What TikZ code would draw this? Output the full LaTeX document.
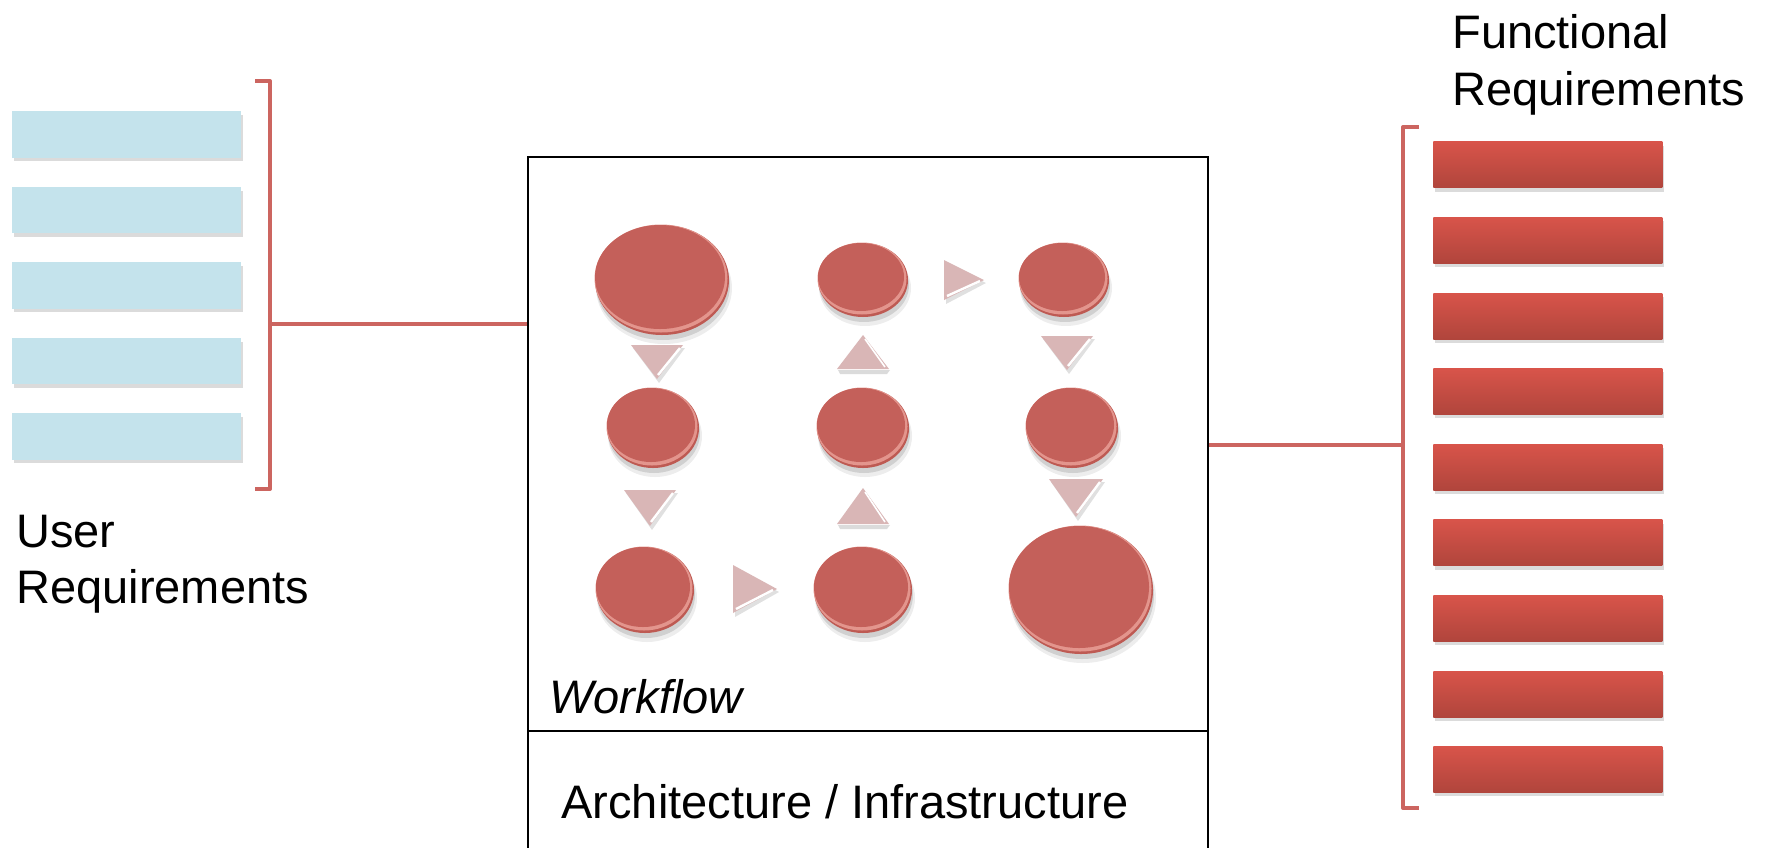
\documentclass[tikz,border=0pt]{standalone}
\usepackage{fontspec}
\setmainfont{Liberation Sans}
\usetikzlibrary{shapes.geometric}
\definecolor{ubar}{HTML}{C4E3EC}
\definecolor{fbartop}{HTML}{D8544A}
\definecolor{fbarbot}{HTML}{B0453C}
\definecolor{brk}{HTML}{CC6560}
\definecolor{discmain}{HTML}{C4605A}
\definecolor{discrim}{HTML}{E3958D}
\definecolor{discedge}{HTML}{BE5A53}
\definecolor{tri}{HTML}{D9B6B6}
\newcommand\mydisc[5]{%
  \pgfmathsetmacro\dcx{#2}\pgfmathsetmacro\dcy{#3}%
  \pgfmathsetmacro\drx{#4}\pgfmathsetmacro\dry{#5}%
  \pgfmathsetmacro\irx{#4-2}\pgfmathsetmacro\iry{#5-3}%
  \fill[black,opacity=0.07] (\dcx+2,\dcy+8) ellipse [x radius=\drx+1, y radius=\dry+1];
  \fill[black,opacity=0.12] (\dcx+1,\dcy+5) ellipse [x radius=\drx, y radius=\dry];
  \fill[discedge] (\dcx,\dcy) ellipse [x radius=\drx, y radius=\dry];
  \fill[discrim] (\dcx-1,\dcy-1.5) ellipse [x radius=\drx-0.5, y radius=\dry-1];
  \fill[discmain] (\dcx-2,\dcy-3) ellipse [x radius=\irx, y radius=\iry];
  \node[inner sep=0pt, minimum size=0pt] (#1) at (\dcx,\dcy) {};
}
\newcommand\tridown[4]{% cx top bottom hw
  \fill[black,opacity=0.12] (#1-#4+2,#2+3) -- (#1+#4+2,#2+3) -- (#1+2,#3+4) -- cycle;
  \fill[tri] (#1-#4,#2) -- (#1+#4,#2) -- (#1,#3) -- cycle;
  \draw[white, line width=1.2pt] (#1+#4-3,#2+3) -- (#1+1,#3-4);
}
\newcommand\triup[4]{% cx top bottom hw
  \fill[black,opacity=0.14] (#1-#4+1,#3+1) -- (#1+#4+1,#3+1) -- (#1+#4-2,#3+5) -- (#1-#4+3,#3+5) -- cycle;
  \fill[tri] (#1-#4,#3) -- (#1+#4,#3) -- (#1,#2) -- cycle;
  \draw[white, line width=0.8pt] (#1+2,#2+4) -- (#1+#4-4,#3-2);
}
\newcommand\triright[4]{% left right cy hh
  \fill[black,opacity=0.12] (#1+2,#3-#4+3) -- (#2+2,#3+3) -- (#1+2,#3+#4+4) -- cycle;
  \fill[tri] (#1,#3-#4) -- (#2,#3) -- (#1,#3+#4) -- cycle;
  \draw[white, line width=1.2pt] (#1+3,#3+#4-4) -- (#2-4,#3+1);
}
\begin{document}
\begin{tikzpicture}[x=0.5pt,y=-0.5pt,
  ubarbox/.style={rectangle, fill=ubar, minimum width=114.5pt, minimum height=23.25pt, inner sep=0pt, anchor=north west},
  fbarbox/.style={rectangle, top color=fbartop, bottom color=fbarbot, minimum width=114.5pt, minimum height=23pt, inner sep=0pt, anchor=north west},
  barshadow/.style={fill=black, opacity=0.14},
  brkline/.style={draw=brk, line width=2pt},
  lbltext/.style={font=\fontsize{23.5}{28}\selectfont, inner sep=0pt, anchor=base west},
]
\useasboundingbox (0,0) rectangle (1770,847);
\fill[white] (0,0) rectangle (1770,847);

% user requirement bars
\foreach \i in {0,...,4} {
  \pgfmathsetmacro\t{111+75.5*\i}
  \fill[barshadow] (14,\t+4) rectangle (243,\t+50);
  \node[ubarbox] (u\i) at (12,\t) {};
}
% left bracket
\coordinate (lbt) at (255,81);
\coordinate (lbb) at (255,489);
\coordinate (lbm) at (270,324);
\draw[brkline, line join=round] (lbt) -- (lbt -| lbm) -- (lbb -| lbm) -- (lbb);

% workflow box
\node[draw, line width=1pt, minimum width=340pt, minimum height=352pt, anchor=north west, inner sep=0pt] (wf) at (527,156) {};
\coordinate (dv) at (527,731);
\draw[line width=1pt] (dv) -- (dv -| wf.east);
\draw[brkline] (lbm) -- (lbm -| wf.west);

% right bracket
\coordinate (rbt) at (1419,127);
\coordinate (rbb) at (1419,808);
\coordinate (rbm) at (1403,444.5);
\draw[brkline, line join=round] (rbt) -- (rbt -| rbm) -- (rbb -| rbm) -- (rbb);
\draw[brkline] (rbm -| wf.east) -- (rbm);

% functional requirement bars
\foreach \i in {0,...,8} {
  \pgfmathsetmacro\t{141.5+75.6*\i}
  \fill[barshadow] (1435,\t+4) rectangle (1664,\t+50);
  \node[fbarbox] (f\i) at (1433,\t) {};
}

% discs
\mydisc{c1}{662}{280}{67}{55}
\mydisc{c2}{863}{280}{45}{37}
\mydisc{c3}{1064}{280}{45}{37}
\mydisc{c4}{653}{428}{46}{40}
\mydisc{c5}{863}{428}{46}{40}
\mydisc{c6}{1072}{428}{46}{40}
\mydisc{c7}{645}{590}{49}{43}
\mydisc{c8}{863}{590}{49}{43}
\mydisc{c9}{1081}{590}{72}{64}

% triangles
\tridown{657}{345}{379}{26}
\tridown{650}{490}{526}{26}
\triright{733}{777}{589}{24}
\triup{863}{488}{524}{26}
\triup{863}{335}{369}{26}
\triright{944}{984}{280}{20}
\tridown{1067}{336}{370}{26}
\tridown{1076}{479}{517}{27}

% labels
\node[lbltext] (ul1) at (16,547.5) {User};
\node[lbltext] (ul2) at (16,603) {Requirements};
\node[lbltext] (fl1) at (1452,48.6) {Functional};
\node[lbltext] (fl2) at (1452,105.3) {Requirements};
\node[lbltext, font=\fontsize{23.5}{28}\selectfont\itshape] (wft) at (549,713) {Workflow};
\node[lbltext] (arch) at (561,818) {Architecture / Infrastructure};
\end{tikzpicture}
\end{document}
